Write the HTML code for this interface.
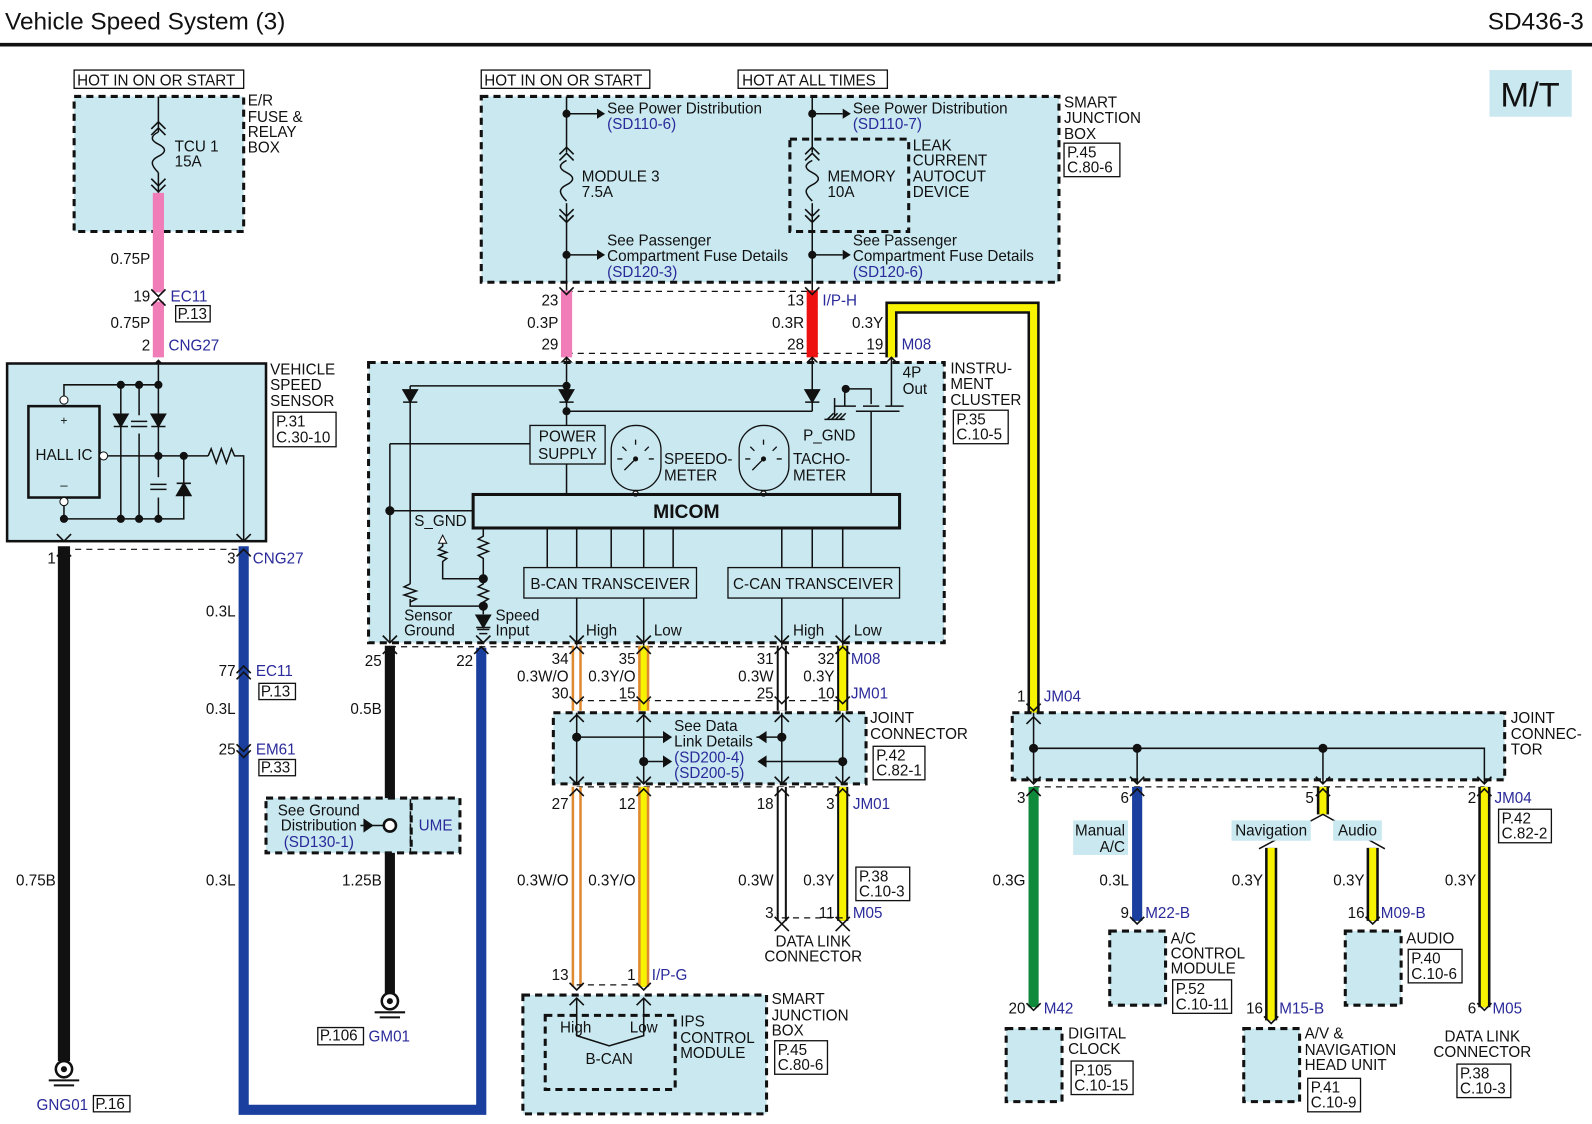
<!DOCTYPE html>
<html><head><meta charset="utf-8"><style>
html,body{margin:0;padding:0;background:#fff;}
svg{display:block;}
text{font-family:"Liberation Sans",sans-serif;font-size:15px;fill:#111;}
.b{fill:#2a2a9a;}
.r{text-anchor:end;}
.m{text-anchor:middle;}
.db{fill:#c9e8f0;stroke:#111;stroke-width:3;stroke-dasharray:7,5;}
.bx{fill:#fff;stroke:#111;stroke-width:1.3;}
.ln{stroke:#111;stroke-width:1.5;fill:none;}
.dl{stroke:#111;stroke-width:1.2;stroke-dasharray:6,5;fill:none;}
.ch{stroke:#111;stroke-width:1.6;fill:none;}
</style></head><body>
<svg width="1592" height="1124" viewBox="0 0 1568 1107" preserveAspectRatio="none" xmlns="http://www.w3.org/2000/svg">
<defs>
<path id="dn" d="M-7,-7 L0,0 L7,-7" class="ch"/>
<path id="up" d="M-7,7 L0,0 L7,7" class="ch"/>
<path id="dio" d="M-7,-5 L7,-5 L0,7 Z M-7,7 L7,7" fill="#111" stroke="#111" stroke-width="1.5"/>
</defs>
<rect width="1568" height="1107" fill="#fff"/>
<text x="5" y="29" style="font-size:24px">Vehicle Speed System (3)</text>
<text x="1560" y="29" class="r" style="font-size:24px">SD436-3</text>
<line x1="0" y1="44" x2="1568" y2="44" stroke="#111" stroke-width="3.5"/>
<rect x="1467" y="69" width="81" height="46" fill="#c9e8f0"/>
<text x="1507" y="105" class="m" style="font-size:34px">M/T</text>

<rect x="73" y="69" width="167" height="18" class="bx"/><text x="76" y="84">HOT IN ON OR START</text>
<rect x="73" y="95" width="167" height="133" class="db"/>
<path d="M156,95 V130 M156,170 V190" class="ln"/>
<use href="#up" x="156" y="120"/><use href="#up" x="156" y="126"/>
<use href="#dn" x="156" y="183"/><use href="#dn" x="156" y="189"/>
<path d="M156,130 c-8,4 -8,8 0,12 c8,4 8,8 0,12 c-8,4 -8,8 0,16" class="ln"/>
<text x="172" y="149">TCU 1</text><text x="172" y="164">15A</text>
<text x="244" y="104">E/R</text><text x="244" y="120">FUSE &amp;</text><text x="244" y="135">RELAY</text><text x="244" y="150">BOX</text>
<line x1="156" y1="190" x2="156" y2="288" stroke="#f07cb8" stroke-width="11"/>
<line x1="156" y1="297" x2="156" y2="352" stroke="#f07cb8" stroke-width="11"/>
<use href="#dn" x="156" y="292"/><use href="#up" x="156" y="294"/>
<text x="148" y="260" class="r">0.75P</text>
<text x="148" y="297" class="r">19</text><text x="168" y="297" class="b">EC11</text>
<rect x="173" y="301" width="34" height="16" class="bx"/><text x="175" y="314">P.13</text>
<text x="148" y="323" class="r">0.75P</text>
<text x="148" y="345" class="r">2</text><text x="166" y="345" class="b">CNG27</text>
<use href="#up" x="156" y="355"/>

<rect x="7" y="358" width="255" height="175" fill="#c9e8f0" stroke="#111" stroke-width="2.5"/>
<rect x="28" y="400" width="70" height="90" fill="none" stroke="#111" stroke-width="2.5"/>
<text x="63" y="418" class="m" style="font-size:12px">+</text>
<text x="63" y="453" class="m">HALL IC</text>
<text x="63" y="482" class="m" style="font-size:13px">–</text>
<path d="M156,355 V379 H63 V390 M63,495 V511 H181 V482 M119,379 V511 M137,379 V511 M156,379 V511 M98,449 H205 M181,449 V482" class="ln"/>
<circle cx="63" cy="394" r="4" fill="#fff" stroke="#111"/><circle cx="63" cy="494" r="4" fill="#fff" stroke="#111"/>
<circle cx="102" cy="449" r="4" fill="#fff" stroke="#111"/>
<use href="#dio" x="119" y="413"/><use href="#dio" x="156" y="413"/><use href="#dio" x="181" y="483" transform="rotate(180 181 483)"/>
<rect x="130" y="409" width="14" height="18" fill="#c9e8f0"/><path d="M129,415 H145 M129,420 H145" stroke="#111" stroke-width="1.5"/>
<rect x="149" y="470" width="14" height="20" fill="#c9e8f0"/><path d="M148,477 H164 M148,482 H164" stroke="#111" stroke-width="1.5"/>
<path d="M205,449 l3,-7 l5,14 l5,-14 l5,14 l5,-14 l3,7 H240 V533" class="ln"/>
<g fill="#111"><circle cx="119" cy="379" r="4"/><circle cx="137" cy="379" r="4"/><circle cx="156" cy="379" r="4"/><circle cx="156" cy="449" r="4"/><circle cx="181" cy="449" r="4"/><circle cx="63" cy="511" r="4"/><circle cx="119" cy="511" r="4"/><circle cx="137" cy="511" r="4"/><circle cx="156" cy="511" r="4"/></g>
<use href="#dn" x="63" y="533"/><use href="#dn" x="240" y="533"/>
<text x="266" y="369">VEHICLE</text><text x="266" y="384">SPEED</text><text x="266" y="400">SENSOR</text>
<rect x="269" y="406" width="62" height="34" class="bx"/><text x="272" y="420">P.31</text><text x="272" y="436">C.30-10</text>

<line x1="63" y1="541" x2="240" y2="541" class="dl"/>
<line x1="63" y1="538" x2="63" y2="1045" stroke="#111" stroke-width="12"/>
<path d="M240,538 V1093 H474 V638" fill="none" stroke="#1b3f9e" stroke-width="10"/>
<use href="#up" x="63" y="541"/><use href="#up" x="240" y="541"/>
<text x="55" y="555" class="r">1</text><text x="232" y="555" class="r">3</text><text x="249" y="555" class="b">CNG27</text>
<text x="232" y="607" class="r">0.3L</text>
<use href="#up" x="240" y="656"/><use href="#up" x="240" y="662"/>
<text x="232" y="666" class="r">77</text><text x="252" y="666" class="b">EC11</text>
<rect x="255" y="673" width="36" height="16" class="bx"/><text x="257" y="686">P.13</text>
<text x="232" y="703" class="r">0.3L</text>
<use href="#dn" x="240" y="740"/><use href="#dn" x="240" y="746"/>
<text x="232" y="743" class="r">25</text><text x="252" y="743" class="b">EM61</text>
<rect x="255" y="748" width="36" height="16" class="bx"/><text x="257" y="761">P.33</text>
<text x="55" y="872" class="r">0.75B</text><text x="232" y="872" class="r">0.3L</text>
<circle cx="63" cy="1053" r="8" fill="#fff" stroke="#111" stroke-width="2.5"/><circle cx="63" cy="1053" r="3" fill="#111"/>
<path d="M48,1064 H78 M53,1069 H73" stroke="#111" stroke-width="2"/>
<text x="36" y="1093" class="b">GNG01</text>
<rect x="92" y="1079" width="36" height="16" class="bx"/><text x="94" y="1092">P.16</text>

<rect x="474" y="69" width="166" height="18" class="bx"/><text x="477" y="84">HOT IN ON OR START</text>
<rect x="727" y="69" width="147" height="18" class="bx"/><text x="731" y="84">HOT AT ALL TIMES</text>
<rect x="474" y="95" width="569" height="183" class="db"/>
<rect x="778" y="137" width="117" height="91" class="db"/>
<path d="M558,95 V150 M558,200 V292 M800,95 V150 M800,200 V292 M558,112 H588 M800,112 H830 M558,251 H588 M800,251 H830" class="ln"/>
<path d="M588,107 L596,112 L588,117Z M830,107 L838,112 L830,117Z M588,246 L596,251 L588,256Z M830,246 L838,251 L830,256Z" fill="#111"/>
<g fill="#111"><circle cx="558" cy="112" r="4"/><circle cx="800" cy="112" r="4"/><circle cx="558" cy="251" r="4"/><circle cx="800" cy="251" r="4"/></g>
<use href="#up" x="558" y="145"/><use href="#up" x="558" y="151"/><use href="#dn" x="558" y="213"/><use href="#dn" x="558" y="219"/>
<use href="#up" x="800" y="145"/><use href="#up" x="800" y="151"/><use href="#dn" x="800" y="213"/><use href="#dn" x="800" y="219"/>
<rect x="557" y="158" width="2" height="42" fill="#c9e8f0"/><rect x="799" y="158" width="2" height="42" fill="#c9e8f0"/>
<path d="M558,158 c-8,4 -8,8 0,12 c8,4 8,8 0,12 c-8,4 -8,8 0,16 M800,158 c-8,4 -8,8 0,12 c8,4 8,8 0,12 c-8,4 -8,8 0,16" class="ln"/>
<text x="598" y="112">See Power Distribution</text><text x="598" y="127" class="b">(SD110-6)</text>
<text x="840" y="112">See Power Distribution</text><text x="840" y="127" class="b">(SD110-7)</text>
<text x="573" y="179">MODULE 3</text><text x="573" y="194">7.5A</text>
<text x="815" y="179">MEMORY</text><text x="815" y="194">10A</text>
<text x="899" y="148">LEAK</text><text x="899" y="163">CURRENT</text><text x="899" y="179">AUTOCUT</text><text x="899" y="194">DEVICE</text>
<text x="598" y="242">See Passenger</text><text x="598" y="257">Compartment Fuse Details</text><text x="598" y="273" class="b">(SD120-3)</text>
<text x="840" y="242">See Passenger</text><text x="840" y="257">Compartment Fuse Details</text><text x="840" y="273" class="b">(SD120-6)</text>
<text x="1048" y="106">SMART</text><text x="1048" y="121">JUNCTION</text><text x="1048" y="137">BOX</text>
<rect x="1048" y="141" width="55" height="33" class="bx"/><text x="1051" y="155">P.45</text><text x="1051" y="170">C.80-6</text>

<line x1="558" y1="287" x2="800" y2="287" class="dl"/>
<line x1="558" y1="348" x2="878" y2="348" class="dl"/>
<line x1="558" y1="286" x2="558" y2="352" stroke="#f07cb8" stroke-width="11"/>
<line x1="800" y1="286" x2="800" y2="352" stroke="#ee1111" stroke-width="11"/>
<path d="M878,352 V303 H1018 V702" fill="none" stroke="#111" stroke-width="12"/>
<path d="M878,352 V303 H1018 V702" fill="none" stroke="#f7f200" stroke-width="7"/>
<use href="#dn" x="558" y="290"/><use href="#dn" x="800" y="290"/>
<use href="#up" x="558" y="352"/><use href="#up" x="800" y="352"/><use href="#up" x="878" y="352"/>
<text x="550" y="301" class="r">23</text><text x="550" y="323" class="r">0.3P</text><text x="550" y="344" class="r">29</text>
<text x="792" y="301" class="r">13</text><text x="810" y="301" class="b">I/P-H</text>
<text x="792" y="323" class="r">0.3R</text><text x="792" y="344" class="r">28</text>
<text x="870" y="323" class="r">0.3Y</text><text x="870" y="344" class="r">19</text><text x="888" y="344" class="b">M08</text>

<rect x="363" y="357" width="567" height="276" class="db"/>
<text x="936" y="368">INSTRU-</text><text x="936" y="383">MENT</text><text x="936" y="399">CLUSTER</text>
<rect x="939" y="404" width="54" height="33" class="bx"/><text x="942" y="418">P.35</text><text x="942" y="433">C.10-5</text>
<text x="889" y="372">4P</text><text x="889" y="388">Out</text>
<path d="M558,352 V419 M404,380 H558 M404,380 V575 M404,590 V597 H476 M558,405 H800 M800,352 V405 M384,437 H522 M384,437 V633 M384,503 H466 M558,457 V487" class="ln"/>
<use href="#dio" x="404" y="389"/><use href="#dio" x="558" y="389"/><use href="#dio" x="800" y="389"/>
<path d="M404,575 l-6,3 l12,4 l-12,4 l12,4 l-6,3" class="ln"/>
<g fill="#111"><circle cx="558" cy="380" r="4"/><circle cx="558" cy="405" r="4"/><circle cx="384" cy="503" r="4.5"/><circle cx="476" cy="570" r="4.5"/><circle cx="476" cy="597" r="4.5"/><circle cx="833" cy="383" r="4"/></g>
<rect x="522" y="419" width="74" height="38" fill="none" stroke="#111" stroke-width="1.3"/>
<text x="559" y="435" class="m">POWER</text><text x="559" y="452" class="m">SUPPLY</text>
<g fill="none" stroke="#111" stroke-width="1.3">
<rect x="602" y="419" width="49" height="64" rx="24"/><rect x="728" y="419" width="49" height="64" rx="24"/>
<circle cx="626" cy="486" r="2.5" fill="#fff"/><circle cx="752" cy="486" r="2.5" fill="#fff"/>
<path d="M626,433 v5 M613,440 l4,4 M639,440 l-4,4 M608,452 h5 M639,452 h5 M615,463 l11,-11 M752,433 v5 M739,440 l4,4 M765,440 l-4,4 M734,452 h5 M765,452 h5 M741,463 l11,-11"/>
</g>
<circle cx="626" cy="452" r="2.5" fill="#111"/><circle cx="752" cy="452" r="2.5" fill="#111"/>
<text x="654" y="457">SPEEDO-</text><text x="654" y="473">METER</text>
<text x="781" y="457">TACHO-</text><text x="781" y="473">METER</text>
<text x="791" y="434">P_GND</text>
<path d="M833,383 H858 V398 M833,383 H832 V400 M822,400 H843 M850,400 H866 M872,400 H890 M843,405 H886 M878,352 V400 M858,405 V487 M822,392 V410" class="ln"/>
<path d="M815,413 l6,-6 M819,413 l6,-6 M823,413 l6,-6 M827,413 l6,-6 M812,413 H832" class="ln"/>
<rect x="466" y="487" width="420" height="33" fill="none" stroke="#111" stroke-width="3"/>
<text x="676" y="510" class="m" style="font-size:19px;font-weight:bold">MICOM</text>
<text x="408" y="518">S_GND</text>
<path d="M476,520 V528 l-5,3 l10,4 l-10,4 l10,4 l-10,4 l5,3 V575 l-5,3 l10,4 l-10,4 l10,4 l-5,3 V605 M436,535 V538 l-4,3 l8,3 l-8,3 l8,3 l-4,3 V570 H476" class="ln"/>
<path d="M432,535 L436,527 L440,535Z" fill="#fff" stroke="#111"/>
<use href="#dio" x="476" y="611"/>
<path d="M470,620 H482 M472,624 H480" class="ln"/>
<path d="M539,520 V559 M568,520 V559 M602,520 V559 M634,520 V559 M663,520 V559 M770,520 V559 M800,520 V559 M830,520 V559" class="ln"/>
<rect x="516" y="559" width="170" height="30" fill="none" stroke="#111" stroke-width="1.3"/>
<rect x="717" y="559" width="169" height="30" fill="none" stroke="#111" stroke-width="1.3"/>
<text x="601" y="580" class="m">B-CAN TRANSCEIVER</text><text x="801" y="580" class="m">C-CAN TRANSCEIVER</text>
<path d="M568,589 V636 M634,589 V636 M770,589 V636 M830,589 V636" class="ln"/>
<use href="#dn" x="384" y="633"/><use href="#dn" x="476" y="633"/><use href="#dn" x="568" y="633"/><use href="#dn" x="634" y="633"/><use href="#dn" x="770" y="633"/><use href="#dn" x="830" y="633"/>
<text x="398" y="611">Sensor</text><text x="398" y="626">Ground</text>
<text x="488" y="611">Speed</text><text x="488" y="626">Input</text>
<text x="577" y="626">High</text><text x="644" y="626">Low</text><text x="781" y="626">High</text><text x="841" y="626">Low</text>

<line x1="384" y1="637" x2="830" y2="637" class="dl"/>
<line x1="568" y1="690" x2="830" y2="690" class="dl"/>
<line x1="568" y1="775" x2="830" y2="775" class="dl"/>
<line x1="384" y1="636" x2="384" y2="978" stroke="#111" stroke-width="10"/>
<g fill="none">
<path d="M568,636 V700 M568,775 V972" stroke="#e08a30" stroke-width="10"/>
<path d="M568,636 V700 M568,775 V972" stroke="#fff" stroke-width="5"/>
<path d="M634,636 V700 M634,775 V972" stroke="#e08a30" stroke-width="11"/>
<path d="M634,636 V700 M634,775 V972" stroke="#f7f200" stroke-width="6"/>
<path d="M770,636 V700 M770,775 V907" stroke="#111" stroke-width="10"/>
<path d="M770,636 V700 M770,775 V907" stroke="#fff" stroke-width="6"/>
<path d="M830,636 V700 M830,775 V907" stroke="#111" stroke-width="11"/>
<path d="M830,636 V700 M830,775 V907" stroke="#f7f200" stroke-width="7"/>
</g>
<use href="#up" x="384" y="637"/><use href="#up" x="474" y="637"/><use href="#up" x="568" y="637"/><use href="#up" x="634" y="637"/><use href="#up" x="770" y="637"/><use href="#up" x="830" y="637"/>
<text x="376" y="656" class="r">25</text><text x="466" y="656" class="r">22</text>
<text x="560" y="654" class="r">34</text><text x="626" y="654" class="r">35</text><text x="762" y="654" class="r">31</text><text x="822" y="654" class="r">32</text><text x="838" y="654" class="b">M08</text>
<text x="560" y="671" class="r">0.3W/O</text><text x="626" y="671" class="r">0.3Y/O</text><text x="762" y="671" class="r">0.3W</text><text x="822" y="671" class="r">0.3Y</text>
<text x="560" y="688" class="r">30</text><text x="626" y="688" class="r">15</text><text x="762" y="688" class="r">25</text><text x="822" y="688" class="r">10</text><text x="838" y="688" class="b">JM01</text>
<text x="376" y="703" class="r">0.5B</text>
<use href="#dn" x="568" y="693"/><use href="#dn" x="634" y="693"/><use href="#dn" x="770" y="693"/><use href="#dn" x="830" y="693"/>
<rect x="545" y="702" width="308" height="70" class="db"/>
<path d="M568,702 V772 M634,702 V772 M770,702 V772 M830,702 V772 M568,726 H655 M634,750 H655 M745,726 H770 M750,750 H830" class="ln"/>
<use href="#up" x="568" y="704"/><use href="#up" x="634" y="704"/><use href="#up" x="770" y="704"/><use href="#up" x="830" y="704"/>
<use href="#dn" x="568" y="772"/><use href="#dn" x="634" y="772"/><use href="#dn" x="770" y="772"/><use href="#dn" x="830" y="772"/>
<g fill="#111"><circle cx="568" cy="726" r="4.5"/><circle cx="634" cy="750" r="4.5"/><circle cx="770" cy="726" r="4.5"/><circle cx="830" cy="750" r="4.5"/>
<path d="M653,720 L662,726 L653,732Z M653,744 L662,750 L653,756Z M755,720 L746,726 L755,732Z M755,744 L746,750 L755,756Z"/></g>
<text x="664" y="720">See Data</text><text x="664" y="735">Link Details</text><text x="664" y="751" class="b">(SD200-4)</text><text x="664" y="766" class="b">(SD200-5)</text>
<text x="857" y="712">JOINT</text><text x="857" y="728">CONNECTOR</text>
<rect x="860" y="735" width="51" height="33" class="bx"/><text x="863" y="749">P.42</text><text x="863" y="764">C.82-1</text>
<use href="#up" x="568" y="777"/><use href="#up" x="634" y="777"/><use href="#up" x="770" y="777"/><use href="#up" x="830" y="777"/>
<text x="560" y="797" class="r">27</text><text x="626" y="797" class="r">12</text><text x="762" y="797" class="r">18</text><text x="822" y="797" class="r">3</text><text x="840" y="797" class="b">JM01</text>
<text x="560" y="872" class="r">0.3W/O</text><text x="626" y="872" class="r">0.3Y/O</text><text x="762" y="872" class="r">0.3W</text><text x="822" y="872" class="r">0.3Y</text>
<rect x="843" y="854" width="53" height="33" class="bx"/><text x="846" y="868">P.38</text><text x="846" y="883">C.10-3</text>
<line x1="770" y1="904" x2="830" y2="904" class="dl"/>
<use href="#dn" x="770" y="910"/><use href="#dn" x="830" y="910"/>
<path d="M763,917 L770,910 L777,917 M823,917 L830,910 L837,917" class="ch"/>
<text x="762" y="904" class="r">3</text><text x="822" y="904" class="r">11</text><text x="840" y="904" class="b">M05</text>
<text x="801" y="932" class="m">DATA LINK</text><text x="801" y="947" class="m">CONNECTOR</text>
<text x="376" y="872" class="r">1.25B</text>
<rect x="262" y="786" width="143" height="54" class="db"/>
<rect x="405" y="786" width="48" height="54" class="db"/>
<text x="314" y="803" class="m">See Ground</text><text x="314" y="818" class="m">Distribution</text><text x="314" y="834" class="m b">(SD130-1)</text>
<path d="M358,806 L368,813 L358,820Z" fill="#111"/><line x1="355" y1="813" x2="378" y2="813" class="ln"/>
<circle cx="384" cy="813" r="6" fill="#fff" stroke="#111" stroke-width="2.5"/>
<text x="429" y="818" class="m b">UME</text>
<circle cx="384" cy="986" r="8" fill="#fff" stroke="#111" stroke-width="2.5"/><circle cx="384" cy="986" r="3" fill="#111"/>
<path d="M369,997 H399 M374,1002 H394" stroke="#111" stroke-width="2"/>
<rect x="313" y="1012" width="45" height="17" class="bx"/><text x="315" y="1025">P.106</text><text x="363" y="1026" class="b">GM01</text>
<line x1="568" y1="970" x2="634" y2="970" class="dl"/>
<use href="#dn" x="568" y="975"/><use href="#dn" x="634" y="975"/>
<text x="560" y="965" class="r">13</text><text x="626" y="965" class="r">1</text><text x="642" y="965" class="b">I/P-G</text>
<rect x="515" y="980" width="240" height="117" class="db"/>
<rect x="537" y="1000" width="128" height="73" class="db"/>
<path d="M568,983 V1020 L600,1030 L634,1020 V983" class="ln"/>
<use href="#up" x="568" y="983"/><use href="#up" x="634" y="983"/>
<text x="567" y="1017" class="m">High</text><text x="634" y="1017" class="m">Low</text><text x="600" y="1048" class="m">B-CAN</text>
<text x="670" y="1011">IPS</text><text x="670" y="1027">CONTROL</text><text x="670" y="1042">MODULE</text>
<text x="760" y="989">SMART</text><text x="760" y="1005">JUNCTION</text><text x="760" y="1020">BOX</text>
<rect x="763" y="1025" width="52" height="33" class="bx"/><text x="766" y="1039">P.45</text><text x="766" y="1054">C.80-6</text>

<use href="#dn" x="1018" y="700"/>
<text x="1010" y="691" class="r">1</text><text x="1028" y="691" class="b">JM04</text>
<rect x="997" y="702" width="485" height="66" class="db"/>
<path d="M1018,702 V772 M1018,737 H1462 V772 M1120,737 V772 M1303,737 V772" class="ln"/>
<use href="#up" x="1018" y="706"/>
<g fill="#111"><circle cx="1018" cy="737" r="4.5"/><circle cx="1120" cy="737" r="4.5"/><circle cx="1303" cy="737" r="4.5"/></g>
<use href="#dn" x="1018" y="772"/><use href="#dn" x="1120" y="772"/><use href="#dn" x="1303" y="772"/><use href="#dn" x="1462" y="772"/>
<text x="1488" y="712">JOINT</text><text x="1488" y="728">CONNEC-</text><text x="1488" y="743">TOR</text>
<line x1="1018" y1="775" x2="1462" y2="775" class="dl"/>
<line x1="1018" y1="775" x2="1018" y2="992" stroke="#0f8a3a" stroke-width="10"/>
<line x1="1120" y1="775" x2="1120" y2="907" stroke="#1b3f9e" stroke-width="10"/>
<g fill="none">
<path d="M1303,775 V802 M1252,835 V1005 M1352,835 V907 M1462,775 V992" stroke="#111" stroke-width="12"/>
<path d="M1303,775 V802 M1252,835 V1005 M1352,835 V907 M1462,775 V992" stroke="#f7f200" stroke-width="7"/>
<path d="M1240,836 L1303,802 L1364,836" stroke="#111" stroke-width="1.5"/>
</g>
<use href="#up" x="1018" y="777"/><use href="#up" x="1120" y="777"/><use href="#up" x="1303" y="777"/><use href="#up" x="1462" y="777"/>
<text x="1010" y="791" class="r">3</text><text x="1112" y="791" class="r">6</text><text x="1294" y="791" class="r">5</text><text x="1454" y="791" class="r">2</text><text x="1472" y="791" class="b">JM04</text>
<rect x="1476" y="797" width="52" height="33" class="bx"/><text x="1479" y="811">P.42</text><text x="1479" y="826">C.82-2</text>
<rect x="1057" y="808" width="54" height="34" fill="#c9e8f0"/><text x="1108" y="823" class="r">Manual</text><text x="1108" y="839" class="r">A/C</text>
<rect x="1213" y="808" width="78" height="20" fill="#c9e8f0"/><text x="1252" y="823" class="m">Navigation</text>
<rect x="1313" y="808" width="48" height="20" fill="#c9e8f0"/><text x="1337" y="823" class="m">Audio</text>
<text x="1010" y="872" class="r">0.3G</text><text x="1112" y="872" class="r">0.3L</text><text x="1244" y="872" class="r">0.3Y</text><text x="1344" y="872" class="r">0.3Y</text><text x="1454" y="872" class="r">0.3Y</text>
<use href="#dn" x="1120" y="910"/><use href="#dn" x="1352" y="910"/>
<text x="1112" y="904" class="r">9</text><text x="1128" y="904" class="b">M22-B</text>
<text x="1344" y="904" class="r">16</text><text x="1360" y="904" class="b">M09-B</text>
<rect x="1093" y="917" width="55" height="73" class="db"/>
<text x="1153" y="929">A/C</text><text x="1153" y="944">CONTROL</text><text x="1153" y="959">MODULE</text>
<rect x="1155" y="965" width="58" height="33" class="bx"/><text x="1158" y="979">P.52</text><text x="1158" y="994">C.10-11</text>
<rect x="1325" y="917" width="55" height="73" class="db"/>
<text x="1385" y="929">AUDIO</text>
<rect x="1387" y="935" width="53" height="33" class="bx"/><text x="1390" y="949">P.40</text><text x="1390" y="964">C.10-6</text>
<use href="#dn" x="1018" y="995"/><use href="#dn" x="1252" y="1008"/><use href="#dn" x="1462" y="995"/>
<text x="1010" y="998" class="r">20</text><text x="1028" y="998" class="b">M42</text>
<text x="1244" y="998" class="r">16</text><text x="1260" y="998" class="b">M15-B</text>
<text x="1454" y="998" class="r">6</text><text x="1470" y="998" class="b">M05</text>
<rect x="991" y="1013" width="55" height="72" class="db"/>
<text x="1052" y="1023">DIGITAL</text><text x="1052" y="1038">CLOCK</text>
<rect x="1055" y="1045" width="61" height="33" class="bx"/><text x="1058" y="1059">P.105</text><text x="1058" y="1074">C.10-15</text>
<rect x="1225" y="1013" width="55" height="72" class="db"/>
<text x="1285" y="1023">A/V &amp;</text><text x="1285" y="1039">NAVIGATION</text><text x="1285" y="1054">HEAD UNIT</text>
<rect x="1288" y="1062" width="52" height="33" class="bx"/><text x="1291" y="1076">P.41</text><text x="1291" y="1091">C.10-9</text>
<text x="1460" y="1026" class="m">DATA LINK</text><text x="1460" y="1041" class="m">CONNECTOR</text>
<rect x="1435" y="1048" width="53" height="33" class="bx"/><text x="1438" y="1062">P.38</text><text x="1438" y="1077">C.10-3</text>
</svg>
</body></html>
